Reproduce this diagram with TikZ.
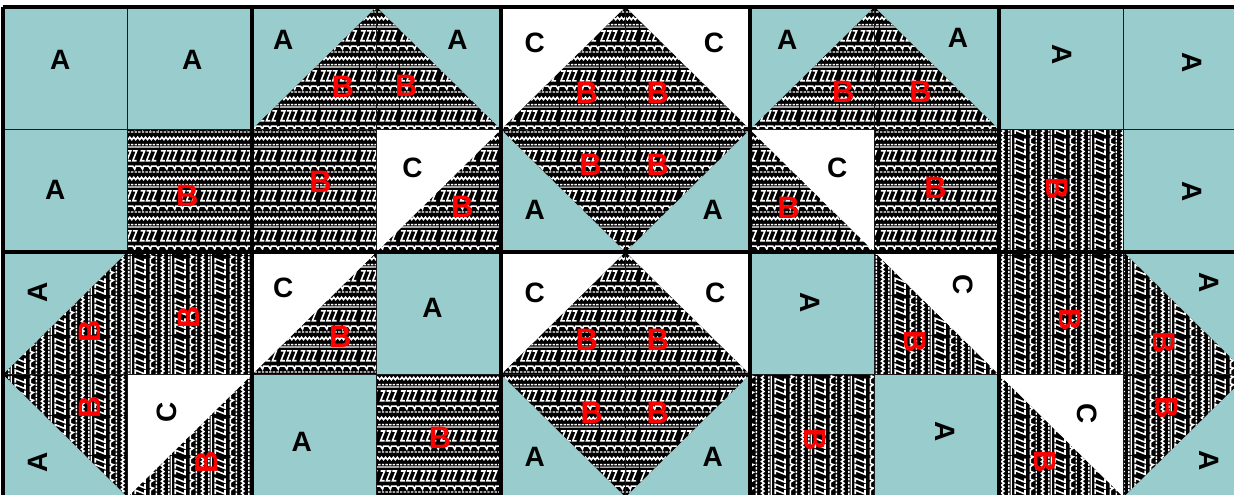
\documentclass[tikz,border=0pt]{standalone}
\usepackage{fontspec}
\setmainfont{Liberation Sans}
\usetikzlibrary{patterns.meta}
\definecolor{QuiltTeal}{HTML}{99CCCC}
\definecolor{QuiltRed}{HTML}{FF0000}
\definecolor{SeamGray}{HTML}{1A1A1A}

% one tile of the black and white print fabric
\newcommand{\fabrictile}{%
  \draw[line width=1.6pt] (0,36) \foreach \k in {1,...,10} { -- (4*\k-2,38.5) -- (4*\k,36) };
  \draw[line width=1.4pt,dash pattern=on 2.5pt off 1.2pt] (0,31) -- (40,31);
  \draw[line width=1.2pt] (0,28.5) -- (40,28.5);
  \foreach \x in {1,7,13,21,27,33}
    \draw[line width=1.6pt] (\x,24.5) -- (\x+4,24.5) -- (\x,14.5) -- (\x+4,14.5);
  \draw[line width=1.6pt] (0,9) \foreach \k in {1,...,5} { -- (8*\k-3,9) -- (8*\k-1,6) -- (8*\k,9) };
  \draw[line width=1.4pt,dash pattern=on 2.5pt off 1.2pt] (0,3) -- (40,3);
}
\tikzdeclarepattern{name=fabricH,type=uncolored,
  bounding box={(0pt,0pt) and (40pt,40pt)},tile size={(40pt,40pt)},
  code={\tikzset{x=1pt,y=1pt}\fabrictile}}
\tikzdeclarepattern{name=fabricV,type=uncolored,
  bounding box={(0pt,0pt) and (40pt,40pt)},tile size={(40pt,40pt)},
  code={\tikzset{x=1pt,y=1pt}\begin{scope}[rotate around={90:(20,20)}]\fabrictile\end{scope}}}

\begin{document}
\begin{tikzpicture}[x=124.5pt,y=-122.5pt,
    pieceA/.style={fill=QuiltTeal},
    pieceC/.style={fill=white},
    pieceBh/.style={fill=black,postaction={pattern=fabricH,pattern color=white}},
    pieceBv/.style={fill=black,postaction={pattern=fabricV,pattern color=white}},
    seam/.style={draw=SeamGray,line width=1.2pt},
    border/.style={draw=black,line width=4.5pt},
    lblA/.style={font=\fontsize{28}{28}\selectfont\bfseries,text=black,inner sep=0pt},
    lblB/.style={font=\fontsize{31}{31}\selectfont\bfseries,text=QuiltRed,inner sep=0pt}]
  \useasboundingbox (-3pt,7pt) rectangle (1231pt,-488pt);
  \fill[white] (-3pt,7pt) rectangle (1231pt,-488pt);

  % top row of blocks
  \fill[pieceA] (0,0) rectangle (2,1);
  \fill[pieceA] (0,1) rectangle (1,2);
  \fill[pieceBh] (1,1) rectangle (2,2);

  \fill[pieceA] (2,0) rectangle (4,1);
  \fill[pieceBh] (2,1) -- (3,0) -- (4,1) -- cycle;
  \fill[pieceBh] (2,1) rectangle (4,2);
  \fill[pieceC] (3,1) -- (4,1) -- (3,2) -- cycle;

  \fill[pieceC] (4,0) rectangle (6,1);
  \fill[pieceA] (4,1) rectangle (6,2);
  \fill[pieceBh] (5,0) -- (6,1) -- (5,2) -- (4,1) -- cycle;

  \fill[pieceA] (6,0) rectangle (8,1);
  \fill[pieceBh] (6,1) -- (7,0) -- (8,1) -- cycle;
  \fill[pieceBh] (6,1) rectangle (8,2);
  \fill[pieceC] (6,1) -- (7,1) -- (7,2) -- cycle;

  \fill[pieceA] (8,0) rectangle (10,2);
  \fill[pieceBv] (8,1) rectangle (9,2);

  % bottom row of blocks
  \fill[pieceA] (0,2) rectangle (1,4);
  \fill[pieceBv] (1,2) -- (0,3) -- (1,4) -- cycle;
  \fill[pieceBv] (1,2) rectangle (2,4);
  \fill[pieceC] (1,3) -- (2,3) -- (1,4) -- cycle;

  \fill[pieceA] (2,2) rectangle (4,4);
  \fill[pieceBh] (3,2) -- (3,3) -- (2,3) -- cycle;
  \fill[pieceC] (2,2) -- (3,2) -- (2,3) -- cycle;
  \fill[pieceBh] (3,3) rectangle (4,4);

  \fill[pieceC] (4,2) rectangle (6,3);
  \fill[pieceA] (4,3) rectangle (6,4);
  \fill[pieceBh] (5,2) -- (6,3) -- (5,4) -- (4,3) -- cycle;

  \fill[pieceA] (6,2) rectangle (8,4);
  \fill[pieceBv] (7,2) -- (8,3) -- (7,3) -- cycle;
  \fill[pieceC] (7,2) -- (8,2) -- (8,3) -- cycle;
  \fill[pieceBv] (6,3) rectangle (7,4);

  \fill[pieceA] (8,2) rectangle (10,4);
  \fill[pieceBv] (8,2) rectangle (9,3);
  \fill[pieceBv] (9,2) -- (10,3) -- (9,4) -- cycle;
  \fill[pieceBv] (8,3) -- (9,4) -- (8,4) -- cycle;
  \fill[pieceC] (8,3) -- (9,3) -- (9,4) -- cycle;

  % seams and block borders
  \foreach \c in {1,3,...,9}
    \draw[seam] (\c,0) -- (\c,4);
  \foreach \r in {1,3}
    \draw[seam] (0,\r) -- (10,\r);
  \foreach \c in {0,2,...,10}
    \draw[border] (\c,0) -- (\c,4);
  \foreach \r in {0,2,4}
    \draw[border] (0,\r) -- (10,\r);

  % piece letters
  \foreach \x/\y [count=\i] in {0.46/0.43,1.52/0.43,0.42/1.49,2.25/0.27,3.65/0.27,4.27/1.66,5.70/1.66,
      6.30/0.27,7.67/0.25,3.45/2.46,2.40/3.55,4.27/3.67,5.70/3.67}
    \node[lblA] (A\i) at (\x,\y) {A};
  \foreach \x/\y [count=\i] in {0.28/2.33,0.28/3.72}
    \node[lblA,rotate=90] (Al\i) at (\x,\y) {A};
  \foreach \x/\y [count=\i] in {8.51/0.39,9.55/0.45,9.55/1.51,6.48/2.41,7.57/3.47,9.69/2.25,9.69/3.70}
    \node[lblA,rotate=-90] (Ar\i) at (\x,\y) {A};

  \foreach \x/\y [count=\i] in {3.29/1.31,4.27/0.29,5.71/0.29,6.70/1.31,2.25/2.29,4.27/2.33,5.72/2.33}
    \node[lblA] (C\i) at (\x,\y) {C};
  \node[lblA,rotate=90] (Cl1) at (1.32,3.31) {C};
  \foreach \x/\y [count=\i] in {7.71/2.27,8.71/3.32}
    \node[lblA,rotate=-90] (Cr\i) at (\x,\y) {C};

  \foreach \x/\y [count=\i] in {1.48/1.54,2.73/0.65,3.24/0.64,2.55/1.43,3.69/1.63,4.69/0.70,5.26/0.70,
      4.72/1.29,5.26/1.29,6.75/0.69,7.37/0.69,6.31/1.64,7.49/1.48,2.71/2.69,3.51/3.52,
      4.69/2.72,5.26/2.72,4.73/3.31,5.26/3.31}
    \node[lblB] (B\i) at (\x,\y) {B};
  \foreach \x/\y [count=\i] in {0.70/2.65,1.49/2.53,0.70/3.27,1.64/3.72}
    \node[lblB,rotate=90] (Bl\i) at (\x,\y) {B};
  \foreach \x/\y [count=\i] in {8.47/1.48,7.33/2.73,6.52/3.53,8.57/2.55,9.33/2.74,9.35/3.27,8.37/3.71}
    \node[lblB,rotate=-90] (Br\i) at (\x,\y) {B};
\end{tikzpicture}
\end{document}
